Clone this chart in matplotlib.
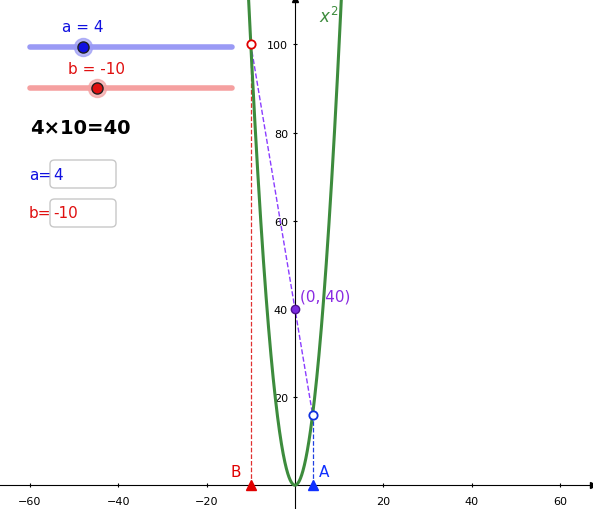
import numpy as np
import matplotlib.pyplot as plt
from matplotlib.patches import FancyBboxPatch

a_val = 4
b_val = -10
x_ticks = [-60, -40, -20, 20, 40, 60]
y_ticks = [20, 40, 60, 80, 100]

fig = plt.figure(figsize=(5.93, 5.10), dpi=100)
ax = fig.add_axes([0, 0, 1, 1])
ax.set_xlim(-66.8, 67.5)
ax.set_ylim(-5.4, 110.3)

for s in ['top', 'right']:
    ax.spines[s].set_visible(False)
ax.spines['left'].set_position(('data', 0))
ax.spines['bottom'].set_position(('data', 0))
ax.set_xticks(x_ticks)
ax.set_yticks(y_ticks)
ax.tick_params(labelsize=8, length=3, direction='inout')
ax.tick_params(axis='x', pad=6)
ax.plot(1, 0, '>k', transform=ax.get_yaxis_transform(), clip_on=False, ms=4)
ax.plot(0, 1, '^k', transform=ax.get_xaxis_transform(), clip_on=False, ms=4)

# parabola
xs = np.linspace(-11, 11, 400)
ax.plot(xs, xs ** 2, color='#3d8c3d', lw=2.2, zorder=3)
ax.text(5.5, 105, '$x^2$', color='#3d8c3d', fontsize=12)

# construction lines
pa, pb = a_val ** 2, b_val ** 2
prod = -a_val * b_val
ax.plot([b_val, b_val], [0, pb], '--', color='#e03030', lw=0.9)
ax.plot([a_val, a_val], [0, pa], '--', color='#2040e0', lw=0.9)
ax.plot([b_val, a_val], [pb, pa], '--', color='#8a3cff', lw=1)
ax.plot(b_val, pb, 'o', mfc='white', mec='#e00000', ms=6, mew=1.3, zorder=5)
ax.plot(a_val, pa, 'o', mfc='white', mec='#1030e0', ms=6, mew=1.3, zorder=5)
ax.plot(0, prod, 'o', color='#7b2ce0', mec='#4b1090', ms=6, zorder=5)
ax.text(1.2, prod + 2, f'(0, {prod})', color='#8a2be2', fontsize=11)
ax.plot(a_val, 0, '^', color='#1030ff', ms=7, clip_on=False, zorder=5)
ax.plot(b_val, 0, '^', color='#e00000', ms=7, clip_on=False, zorder=5)
ax.text(a_val + 1.5, 2, 'A', color='#1030ff', fontsize=11)
ax.text(b_val - 4.5, 2, 'B', color='#e00000', fontsize=11)

# sliders (figure pixel coordinates)
W, H = 593, 510
def fx(p): return p / W
def fy(p): return 1 - p / H

for yp, knob, col, light, lab in [(48, 83, '#1010e0', '#9a9af5', f'a = {a_val}'),
                                  (89, 97, '#e01010', '#f5a0a0', f'b = {b_val}')]:
    fig.add_artist(plt.Line2D([fx(30), fx(232)], [fy(yp), fy(yp)], color=light, lw=4,
                              solid_capstyle='round'))
    fig.add_artist(plt.Line2D([fx(knob)], [fy(yp)], marker='o', ms=13, color=light, alpha=0.7))
    fig.add_artist(plt.Line2D([fx(knob)], [fy(yp)], marker='o', ms=8, color=col, mec='#202020'))
    fig.text(fx(knob), fy(yp - 20), lab, color=col, fontsize=11, ha='center', va='center')

fig.text(fx(30), fy(128), f'{a_val}×{-b_val}={prod}', fontsize=14, fontweight='bold',
         va='center')

for yp, col, lab, val in [(175, '#1010e0', 'a=', a_val), (214, '#e01010', 'b=', b_val)]:
    fig.text(fx(29), fy(yp), lab, color=col, fontsize=11, va='center')
    box = FancyBboxPatch((fx(50), fy(yp + 14)), fx(66), 28 / H,
                         boxstyle='round,pad=0,rounding_size=0.008',
                         transform=fig.transFigure, fc='white', ec='#c8c8c8', lw=1)
    fig.add_artist(box)
    fig.text(fx(53), fy(yp), str(val), color=col, fontsize=11, va='center')

fig.savefig('out.png', dpi=100)
